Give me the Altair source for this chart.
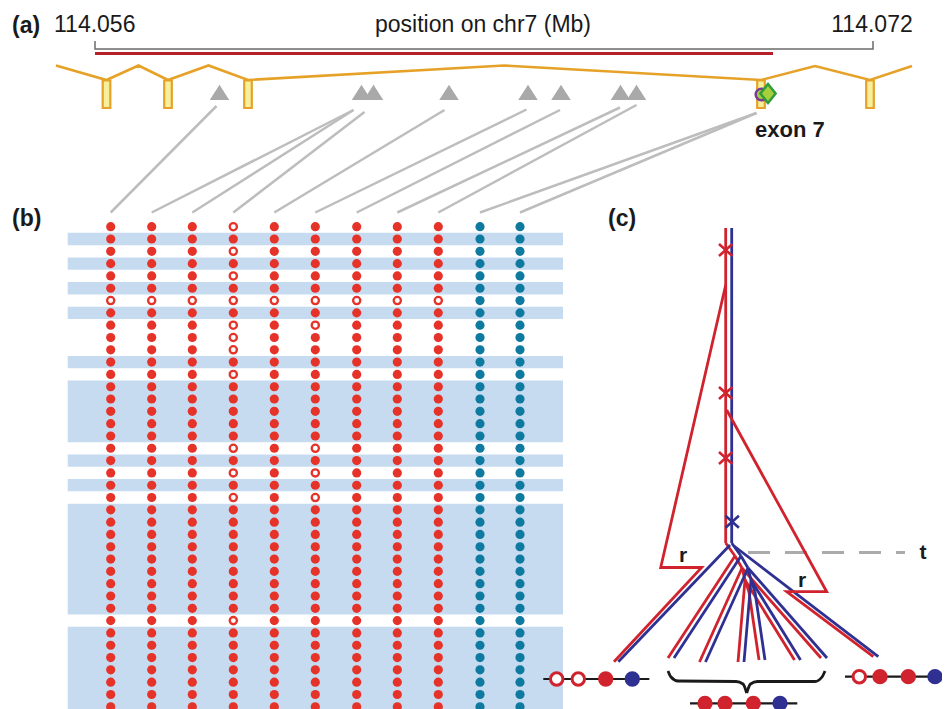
import altair as alt
import pandas as pd

# ---------------- canvas ----------------
W, H = 934, 701
XS = alt.Scale(domain=[8, 8 + W], nice=False, zero=False)
YS = alt.Scale(domain=[8, 8 + H], nice=False, zero=False, reverse=True)
FONT = "Liberation Sans"

RED_B = "#e6332a"     # panel b alleles
TEAL = "#0f7aa0"
BAND = "#c6dbf0"
GRAY_LINE = "#bdbdbd"
GRAY_TRI = "#a9a9a9"
ORANGE = "#e6a228"
EXON_FILL = "#f6ef9c"
RED_C = "#d0232d"     # panel c lineages
BLUE_C = "#2e3192"

# ---------------- panel (a) data ----------------
tick_labels = ["114.056", "114.072"]
tick_label_x = [54, 872]
axis_title = "position on chr7 (Mb)"
axis_title_x = 483
bracket_x = [95, 95, 873, 873]
bracket_y = [41, 49, 49, 41]
red_span_x = [95, 773]
red_span_y = 53.5
gene_x = [56, 106.5, 138.5, 168, 208.5, 248, 504, 761, 815, 870, 912]
gene_y = [65.5, 80, 65.5, 80, 65.5, 80, 65.5, 80, 66, 80, 66]
exon_center = [106.5, 168, 248, 761, 870]
exon_top, exon_bottom = 80.5, 108
snp_tri_x = [219.5, 361.5, 373.5, 449, 528, 561, 620.5, 636.5]
snp_tri_y = 92.3
exon7_marker = (768, 93.5)
exon7_circle = (761.5, 94.5)
exon7_label = "exon 7"

# connectors: start point (below each variant) -> column index in panel b
conn_x1 = [216.5, 353.5, 353.5, 364.5, 444.5, 526.5, 560, 620, 636.5, 756.5, 756.5]
conn_y1 = [106, 110, 110, 112, 110, 109.5, 110, 107.5, 105, 113, 113]
conn_col = [0, 1, 2, 3, 4, 5, 6, 7, 8, 9, 10]
conn_y2 = 212.5

# ---------------- panel (b) data ----------------
col_x = [110.7, 151.7, 192.3, 233.3, 274.3, 315.3, 356.7, 397.3, 438.3, 480, 520]
col_kind = ["red"] * 9 + ["teal"] * 2
n_rows = 40
row_y0, row_step = 226.7, 12.31
open_cells = {0: [3], 2: [3], 4: [3], 6: [0, 1, 2, 3, 4, 5, 6, 7, 8],
              8: [3, 5], 9: [3], 10: [3], 12: [3], 18: [3, 5], 20: [3, 5],
              22: [3, 5], 32: [3]}
band_runs = [(1, 1), (3, 3), (5, 5), (7, 7), (11, 11), (13, 17), (19, 19),
             (21, 21), (23, 31), (33, 39)]
band_x = [67.7, 563]

# ---------------- panel (c) data ----------------
node_name = ["top", "N0", "N1", "N2", "N3", "N4", "L2", "L3", "L4", "L5", "L6", "L7"]
node_x = [728.7, 728.7, 738, 745, 748, 752, 671, 702.5, 741, 762, 797.5, 824]
node_y = [228, 543, 556, 568, 580, 592, 658, 662, 662, 660, 660, 658]
edge_from = ["top", "N0", "N1", "N2", "N3", "N1", "N2", "N3", "N4", "N3", "N2"]
edge_to = ["N0", "N1", "N2", "N3", "N4", "L2", "L3", "L4", "L5", "L6", "L7"]
# blue-only outer lineages
blue_x1 = [730, 734]
blue_y1 = [545, 546]
blue_x2 = [618.3, 878.3]
blue_y2 = [661.7, 656.7]
# red recombinant paths (r)
r_left_x = [725.7, 660.7, 701.7, 614]
r_left_y = [285, 567.5, 567.5, 661.7]
r_right_x = [726.7, 826.7, 786.7, 873.3]
r_right_y = [410, 591.7, 591.7, 656.7]
# mutation marks
mut_y = [250, 393, 458, 521.7]
mut_kind = ["red", "red", "red", "blue"]
t_line_x = [748, 905]
t_line_y = 552.5

# haplotypes at the tips
hap_line_x1 = [543.3, 690, 845]
hap_line_x2 = [649.3, 797.3, 950]
hap_line_y = [679, 703.3, 676.7]
hap_x = [556.7, 578.3, 605.7, 632.3, 705, 725, 753.3, 780, 859.3, 880, 908.3, 935]
hap_y = [679] * 4 + [703.3] * 4 + [676.7] * 4
hap_state = ["open", "open", "red", "blue", "red", "red", "red", "blue",
             "open", "red", "red", "blue"]
brace_x = [668, 671, 678, 736, 743, 746.7, 746.7, 750.5, 757.5, 815, 822, 825]
brace_y = [671, 677, 681, 681.5, 684, 693, 693, 684, 681.5, 681.5, 677, 671]
brace_half = [0] * 6 + [1] * 6

# labels
bold_labels = ["(a)", "(b)", "(c)", exon7_label]
bold_x = [12, 12, 608, 755]
bold_y = [32.5, 226, 226, 137]
bold_size = [23, 23, 23, 22]
letter_labels = ["r", "r", "t"]
letter_x = [683, 802, 923]
letter_y = [556, 581, 553]


# ---------------- helpers ----------------
def ex(f="x"):
    return alt.X(f"{f}:Q", scale=XS, axis=None)


def ey(f="y"):
    return alt.Y(f"{f}:Q", scale=YS, axis=None)


layers = []

# bands
bdf = pd.DataFrame({
    "x": [band_x[0]] * len(band_runs), "x2": [band_x[1]] * len(band_runs),
    "y": [row_y0 + row_step * (a - 0.5) for a, b in band_runs],
    "y2": [row_y0 + row_step * (b + 0.5) for a, b in band_runs]})
layers.append(alt.Chart(bdf).mark_rect(color=BAND).encode(
    x=ex(), x2="x2:Q", y=ey(), y2="y2:Q"))

# bracket + red span
layers.append(alt.Chart(pd.DataFrame({"x": bracket_x, "y": bracket_y, "i": range(4)}))
              .mark_line(color="#6b6b6b", strokeWidth=1.5)
              .encode(x=ex(), y=ey(), order="i:O"))
layers.append(alt.Chart(pd.DataFrame({"x": [red_span_x[0]], "x2": [red_span_x[1]], "y": [red_span_y]}))
              .mark_rule(color="#b3202a", strokeWidth=3)
              .encode(x=ex(), x2="x2:Q", y=ey()))

# gene model
layers.append(alt.Chart(pd.DataFrame({"x": gene_x, "y": gene_y, "i": range(len(gene_x))}))
              .mark_line(color=ORANGE, strokeWidth=2.6)
              .encode(x=ex(), y=ey(), order="i:O"))
edf = pd.DataFrame({"x": [c - 3.8 for c in exon_center], "x2": [c + 3.8 for c in exon_center],
                    "y": [exon_top] * 5, "y2": [exon_bottom] * 5})
layers.append(alt.Chart(edf).mark_rect(fill=EXON_FILL, stroke=ORANGE, strokeWidth=2.2)
              .encode(x=ex(), x2="x2:Q", y=ey(), y2="y2:Q"))

# variant triangles
layers.append(alt.Chart(pd.DataFrame({"x": snp_tri_x, "y": [snp_tri_y] * len(snp_tri_x)}))
              .mark_point(shape="M-1,0.78L0,-0.78L1,0.78Z", filled=True, color=GRAY_TRI,
                          size=380, opacity=1)
              .encode(x=ex(), y=ey()))
layers.append(alt.Chart(pd.DataFrame({"x": [exon7_circle[0]], "y": [exon7_circle[1]]}))
              .mark_point(shape="circle", filled=True, fill="#a6cf3c", stroke="#7a3b9c",
                          strokeWidth=2.5, size=135, opacity=1)
              .encode(x=ex(), y=ey()))
layers.append(alt.Chart(pd.DataFrame({"x": [exon7_marker[0]], "y": [exon7_marker[1]]}))
              .mark_point(shape="M0,-1.25L1,0L0,1.25L-1,0Z", filled=True, fill="#a6cf3c",
                          stroke="#2e9d3a", strokeWidth=2.5, size=230, opacity=1)
              .encode(x=ex(), y=ey()))

# connectors
cdf = pd.DataFrame({"x": conn_x1, "y": conn_y1,
                    "x2": [col_x[c] for c in conn_col], "y2": [conn_y2] * len(conn_col)})
layers.append(alt.Chart(cdf).mark_rule(color=GRAY_LINE, strokeWidth=2.5)
              .encode(x=ex(), y=ey(), x2="x2:Q", y2="y2:Q"))

# panel b alleles
cells = []
for r in range(n_rows):
    for c, cx in enumerate(col_x):
        is_open = c in open_cells.get(r, [])
        cells.append({"x": cx, "y": row_y0 + row_step * r,
                      "state": "open" if is_open else col_kind[c]})
cells = pd.DataFrame(cells)
filled_cells = cells[cells.state != "open"].copy()
filled_cells["col"] = filled_cells.state.map({"red": RED_B, "teal": TEAL})
layers.append(alt.Chart(filled_cells).mark_circle(size=84, opacity=1)
              .encode(x=ex(), y=ey(), color=alt.Color("col:N", scale=None)))
layers.append(alt.Chart(cells[cells.state == "open"])
              .mark_point(shape="circle", filled=True, fill="white", stroke=RED_B,
                          strokeWidth=2.3, size=52, opacity=1)
              .encode(x=ex(), y=ey()))

# panel c: t line
layers.append(alt.Chart(pd.DataFrame({"x": [t_line_x[0]], "x2": [t_line_x[1]], "y": [t_line_y]}))
              .mark_rule(color="#ababab", strokeWidth=3, strokeDash=[22, 15])
              .encode(x=ex(), x2="x2:Q", y=ey()))

# paired lineages
nx = dict(zip(node_name, node_x))
ny = dict(zip(node_name, node_y))
pdf = pd.DataFrame({"x": [nx[a] for a in edge_from], "y": [ny[a] for a in edge_from],
                    "x2": [nx[b] for b in edge_to], "y2": [ny[b] for b in edge_to]})
for colr, off in [(RED_C, -3), (BLUE_C, 3)]:
    layers.append(alt.Chart(pdf).mark_rule(color=colr, strokeWidth=2.8, xOffset=off, x2Offset=off)
                  .encode(x=ex(), y=ey(), x2="x2:Q", y2="y2:Q"))
layers.append(alt.Chart(pd.DataFrame({"x": blue_x1, "y": blue_y1, "x2": blue_x2, "y2": blue_y2}))
              .mark_rule(color=BLUE_C, strokeWidth=2.8)
              .encode(x=ex(), y=ey(), x2="x2:Q", y2="y2:Q"))
rdf = pd.DataFrame({"x": r_left_x + r_right_x, "y": r_left_y + r_right_y,
                    "g": ["L"] * 4 + ["R"] * 4, "i": list(range(4)) * 2})
layers.append(alt.Chart(rdf).mark_line(color=RED_C, strokeWidth=2.8, strokeJoin="miter")
              .encode(x=ex(), y=ey(), detail="g:N", order="i:O"))

# mutations
mdf = pd.DataFrame({"x": [node_x[0] + (-3 if k == "red" else 3.5) for k in mut_kind],
                    "y": mut_y,
                    "col": [RED_C if k == "red" else BLUE_C for k in mut_kind]})
layers.append(alt.Chart(mdf).mark_point(shape="M-1,-0.9L1,0.9M-1,0.9L1,-0.9", filled=False,
                                        strokeWidth=2.6, size=180, opacity=1)
              .encode(x=ex(), y=ey(), color=alt.Color("col:N", scale=None)))

# haplotypes
layers.append(alt.Chart(pd.DataFrame({"x": hap_line_x1, "x2": hap_line_x2, "y": hap_line_y}))
              .mark_rule(color="#1a1a1a", strokeWidth=2.2)
              .encode(x=ex(), x2="x2:Q", y=ey()))
layers.append(alt.Chart(pd.DataFrame({"x": brace_x, "y": brace_y, "g": brace_half,
                                      "i": range(len(brace_x))}))
              .mark_line(color="#1a1a1a", strokeWidth=2.8, interpolate="monotone")
              .encode(x=ex(), y=ey(), detail="g:N", order="i:O"))
hdf = pd.DataFrame({"x": hap_x, "y": hap_y, "state": hap_state})
hf = hdf[hdf.state != "open"].copy()
hf["col"] = hf.state.map({"red": RED_C, "blue": BLUE_C})
layers.append(alt.Chart(hf).mark_circle(size=235, opacity=1)
              .encode(x=ex(), y=ey(), color=alt.Color("col:N", scale=None)))
layers.append(alt.Chart(hdf[hdf.state == "open"])
              .mark_point(shape="circle", filled=True, fill="white", stroke=RED_C,
                          strokeWidth=3, size=155, opacity=1)
              .encode(x=ex(), y=ey()))

# texts
layers.append(alt.Chart(pd.DataFrame({"t": [tick_labels[0]], "x": [tick_label_x[0]], "y": [32.3]}))
              .mark_text(font=FONT, fontSize=23, align="left", baseline="alphabetic", color="#1a1a1a")
              .encode(x=ex(), y=ey(), text="t:N"))
layers.append(alt.Chart(pd.DataFrame({"t": [tick_labels[1], axis_title],
                                      "x": [tick_label_x[1], axis_title_x], "y": [32.3, 32.3]}))
              .mark_text(font=FONT, fontSize=23, align="center", baseline="alphabetic", color="#1a1a1a")
              .encode(x=ex(), y=ey(), text="t:N"))
layers.append(alt.Chart(pd.DataFrame({"t": bold_labels, "x": bold_x, "y": bold_y, "s": bold_size}))
              .mark_text(font=FONT, fontWeight="bold", align="left", baseline="alphabetic",
                         color="#1a1a1a")
              .encode(x=ex(), y=ey(), text="t:N", size=alt.Size("s:Q", scale=None)))
layers.append(alt.Chart(pd.DataFrame({"t": letter_labels, "x": letter_x, "y": letter_y}))
              .mark_text(font=FONT, fontWeight="bold", fontSize=21, align="center",
                         baseline="middle", color="#1a1a1a")
              .encode(x=ex(), y=ey(), text="t:N"))

chart = alt.layer(*layers).properties(
    width=W, height=H, padding=0, autosize="none", background="white"
).configure_view(strokeWidth=0)

chart.save("out.html", embed_options={"renderer": "svg", "actions": False})
